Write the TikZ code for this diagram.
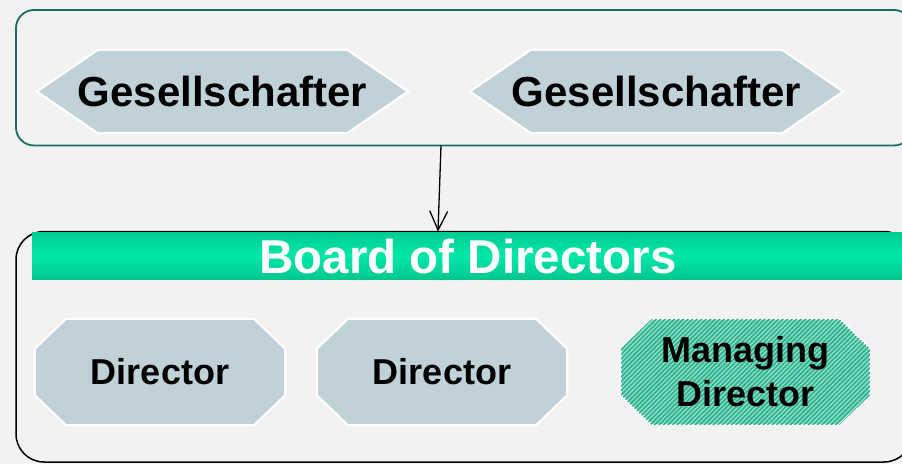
\documentclass[tikz,border=0pt]{standalone}
\usepackage{fontspec}
\setmainfont{Liberation Sans}
\usetikzlibrary{patterns.meta,arrows.meta}
\definecolor{bgc}{HTML}{F2F2F2}
\definecolor{boxteal}{HTML}{1C6E60}
\definecolor{shapefill}{HTML}{C0D2D8}
\definecolor{bartop}{HTML}{00CC94}
\definecolor{barmid}{HTML}{00E8A9}
\definecolor{barbot}{HTML}{00C68E}
\definecolor{mdbase}{HTML}{86DEC6}
\definecolor{mdstripe}{HTML}{2EAE8A}
\pgfdeclarelayer{bg}
\pgfdeclarelayer{back}
\pgfsetlayers{back,bg,main}
\newcommand{\myocta}[2]{%
  \path[#2] ([xshift=31pt]#1.north west) -- ([xshift=-31pt]#1.north east)
    -- ([yshift=-30pt]#1.north east) -- ([yshift=30pt]#1.south east)
    -- ([xshift=-31pt]#1.south east) -- ([xshift=31pt]#1.south west)
    -- ([yshift=30pt]#1.south west) -- ([yshift=-30pt]#1.north west) -- cycle;}
\newcommand{\myhexa}[2]{%
  \path[#2] (#1.west) -- ([xshift=61pt]#1.north west) -- ([xshift=-61pt]#1.north east)
    -- (#1.east) -- ([xshift=-61pt]#1.south east) -- ([xshift=61pt]#1.south west) -- cycle;}
\tikzset{
  gtext/.style={font=\fontsize{42}{50}\selectfont\bfseries, inner sep=0pt,
    minimum height=83pt, text height=30pt, text depth=0pt},
  dtext/.style={font=\fontsize{36}{44}\selectfont\bfseries, inner sep=0pt,
    minimum width=250pt, minimum height=106pt, align=center},
  shapestyle/.style={fill=shapefill, draw=white, line width=2.2pt},
  mdstyle/.style={fill=mdbase, draw=white, line width=2.2pt},
  mdpattern/.style={pattern={Lines[angle=45,distance=3.2pt,line width=1.5pt]}, pattern color=mdstripe},
  topbox/.style={draw=boxteal, line width=1.8pt, rounded corners=18pt},
  botbox/.style={draw=black, line width=1.5pt, rounded corners=28pt},
  bar/.style={top color=bartop, bottom color=barbot, middle color=barmid, inner sep=0pt,
    text=white, font=\fontsize{47.5}{55}\selectfont\bfseries, text height=35pt, text depth=0pt},
  arr/.style={line width=1.3pt, -{Straight Barb[length=19pt,width=18pt,line width=1.3pt]}}
}
\begin{document}
\begin{tikzpicture}[x=1pt,y=-1pt]
\useasboundingbox (0,0) rectangle (902,464);
\clip (0,0) rectangle (902,464);
\begin{pgfonlayer}{back}
\fill[bgc] (0,0) rectangle (902,464);
\end{pgfonlayer}
% top box
\coordinate (topnw) at (16,10);
\coordinate (topse) at (912,145.5);
\draw[topbox] (topnw) rectangle (topse);
\coordinate (topS) at (441,145.5);
% bottom box
\coordinate (botnw) at (16,231.5);
\coordinate (botse) at (912,462);
\draw[botbox] (botnw) rectangle (botse);
% bar
\node[bar, minimum width=872pt, minimum height=46.5pt] (board) at (468,256) {Board of Directors};
% Gesellschafter
\node[gtext, minimum width=371pt] (g1) at (222.5,91.5) {Gesellschafter};
\node[gtext, minimum width=373pt] (g2) at (656.5,91.5) {Gesellschafter};
% Directors
\node[dtext] (d1) at (160,372) {Director};
\node[dtext] (d2) at (442,372) {Director};
\node[dtext, minimum width=249pt] (md) at (745.5,372) {Managing\\Director};
\begin{pgfonlayer}{bg}
\myhexa{g1}{shapestyle}
\myhexa{g2}{shapestyle}
\myocta{d1}{shapestyle}
\myocta{d2}{shapestyle}
\myocta{md}{mdstyle}
\myocta{md}{mdpattern}
\end{pgfonlayer}
% arrow
\coordinate (b) at (438,0);
\draw[arr] (topS) -- ([yshift=1pt]board.north -| b);
\end{tikzpicture}
\end{document}
